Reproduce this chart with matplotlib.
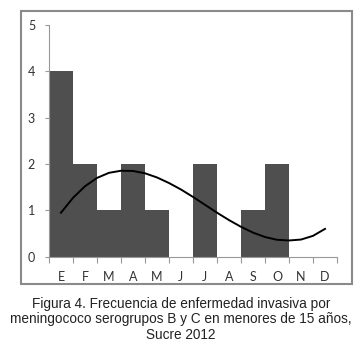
import numpy as np
import matplotlib
matplotlib.use("Agg")
import matplotlib.pyplot as plt
from matplotlib.patches import Rectangle

# monthly cases (bars)
months = ["E", "F", "M", "A", "M", "J", "J", "A", "S", "O", "N", "D"]
cases = [4, 2, 1, 2, 1, 0, 2, 0, 1, 2, 0, 0]

# trend line (every half month)
trend_x = [1, 1.5, 2, 2.5, 3, 3.5, 4, 4.5, 5, 5.5, 6, 6.5,
           7, 7.5, 8, 8.5, 9, 9.5, 10, 10.5, 11, 11.5, 12]
trend_y = [0.95, 1.27, 1.52, 1.70, 1.81, 1.855, 1.85, 1.80, 1.71, 1.59, 1.45, 1.29,
           1.12, 0.95, 0.79, 0.645, 0.52, 0.425, 0.365, 0.35, 0.37, 0.45, 0.60]

caption = ("Figura 4. Frecuencia de enfermedad invasiva por\n"
           "meningococo serogrupos B y C en menores de 15 años,\n"
           "Sucre 2012")

W, H = 362, 351
fig = plt.figure(figsize=(W / 100, H / 100), dpi=100)

# grey frame around the chart
fig.patches.append(Rectangle((21 / W, 1 - 284 / H), 331 / W, 273 / H,
                             transform=fig.transFigure, fill=False,
                             edgecolor="#8a8a8a", linewidth=1.5))

ax = fig.add_axes([49 / W, 1 - 256.7 / H, 288 / W, 231.7 / H])
x = np.arange(1, len(months) + 1)
ax.bar(x, cases, width=1.0, color="#4f4f4f", linewidth=0)
ax.plot(trend_x, trend_y, color="black", linewidth=1.4)

ax.set_xlim(0.5, 12.5)
ax.set_ylim(0, 5)
ax.set_yticks(range(6))
ax.set_xticks(np.arange(0.5, 13, 1))
ax.set_xticklabels([])
ax.set_xticks(x, minor=True)
ax.set_xticklabels(months, minor=True)
ax.tick_params(axis="x", which="major", length=4, color="#999999", width=0.8)
ax.tick_params(axis="x", which="minor", length=0, pad=10, labelsize=9,
               labelcolor="#333333")
ax.tick_params(axis="y", length=3, color="#999999", width=0.8, pad=7,
               labelsize=9, labelcolor="#333333")
for lab in ax.get_xticklabels(minor=True) + ax.get_yticklabels():
    lab.set_family("Lato")

for side in ["top", "right"]:
    ax.spines[side].set_visible(False)
for side in ["left", "bottom"]:
    ax.spines[side].set_color("#999999")
    ax.spines[side].set_linewidth(0.8)

fig.text(0.5, 1 - 297 / H, caption, ha="center", va="top",
         fontsize=9.8, family="Liberation Sans", color="#222222",
         linespacing=1.12)

fig.savefig("out.png", dpi=100)
